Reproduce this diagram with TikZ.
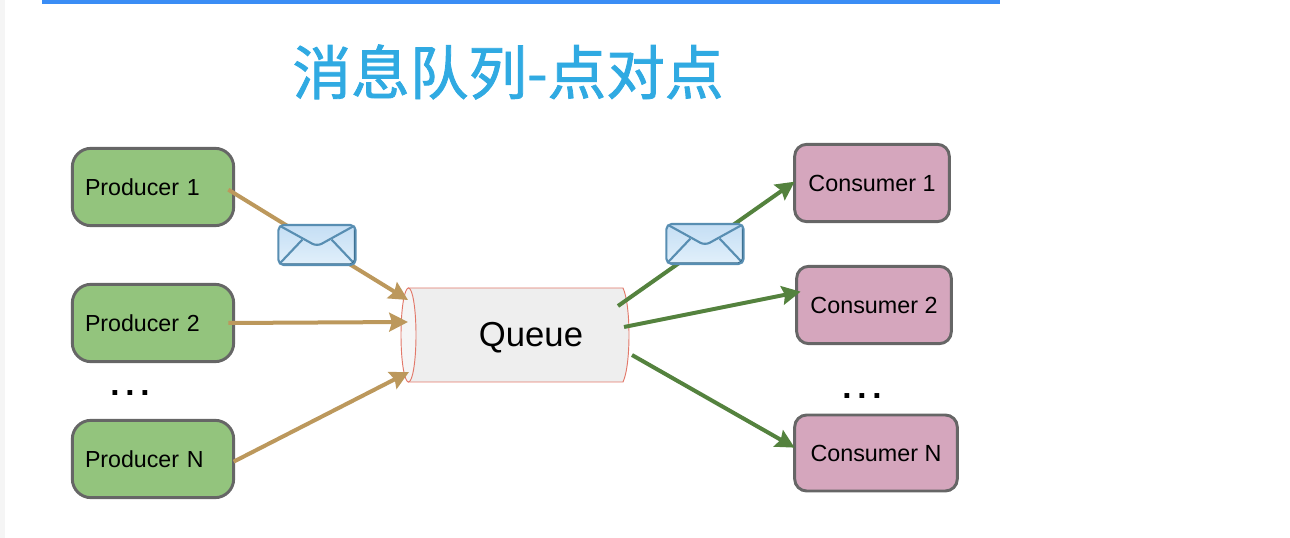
\documentclass[tikz,border=0pt]{standalone}
\usepackage{fontspec}
\setmainfont{Liberation Sans}
\newfontfamily\cjk[FakeBold=1.4]{Noto Sans CJK SC}
\usetikzlibrary{arrows.meta,positioning}
\definecolor{barCol}{RGB}{58,141,245}
\definecolor{titleCol}{RGB}{48,170,226}
\definecolor{prodCol}{RGB}{147,196,125}
\definecolor{consCol}{RGB}{213,166,189}
\definecolor{edgeCol}{RGB}{102,102,102}
\definecolor{inCol}{RGB}{188,152,92}
\definecolor{outCol}{RGB}{84,130,62}
\definecolor{queueCol}{RGB}{238,238,238}
\definecolor{queueEdge}{RGB}{226,120,105}
\definecolor{mailEdge}{RGB}{88,142,178}
\definecolor{mailDark}{RGB}{48,98,130}
\definecolor{mailTop}{RGB}{196,222,244}
\definecolor{mailBot}{RGB}{226,240,251}
\tikzset{
  prod/.style={draw=edgeCol,line width=2.2pt,rounded corners=14pt,fill=prodCol,outer sep=0pt,
               minimum width=121pt,minimum height=58pt,text width=102pt,inner sep=0pt,
               align=left,font=\fontsize{17.4}{20}\selectfont},
  cons/.style={draw=edgeCol,line width=2.2pt,rounded corners=9pt,fill=consCol,outer sep=0pt,
               minimum height=58pt,inner sep=0pt,align=center,
               font=\fontsize{17.5}{20}\selectfont},
  inflow/.style={-{Stealth[length=14pt,width=14pt,inset=2pt]},line width=3pt,draw=inCol},
  outflow/.style={-{Stealth[length=14pt,width=14pt,inset=2pt]},line width=3pt,draw=outCol},
  dotlab/.style={font=\bfseries\fontsize{25}{25}\selectfont},
  queuebody/.style={draw=queueEdge,line width=.7pt,fill=queueCol},
  mail/.style={draw=mailEdge,line width=1.6pt,rounded corners=4pt,outer sep=0pt,
               minimum width=58pt,minimum height=30pt,inner sep=0pt,
               top color=mailTop,bottom color=mailBot,
               path picture={
                 \draw[mailEdge,line width=1.6pt]
                   (path picture bounding box.north west) -- ([yshift=-16pt]path picture bounding box.north)
                   -- (path picture bounding box.north east);
                 \draw[mailEdge,line width=1.6pt]
                   (path picture bounding box.south west) -- ([xshift=18pt,yshift=-11pt]path picture bounding box.north west);
                 \draw[mailEdge,line width=1.6pt]
                   (path picture bounding box.south east) -- ([xshift=-18pt,yshift=-11pt]path picture bounding box.north east);
                 \draw[mailDark,line width=2.6pt]
                   (path picture bounding box.south west) -- (path picture bounding box.south east)
                   -- (path picture bounding box.north east);
               }},
}
\newcommand{\threedots}{.\hspace{4.3pt}.\hspace{4.3pt}.}
\begin{document}
\begin{tikzpicture}[x=.75pt,y=-.75pt]
  \useasboundingbox (0,0) rectangle (1290,538);
  \fill[black!4] (0,0) rectangle (5,538);
  \fill[barCol] (42,0) rectangle (1000,4);
  \node[text=titleCol,font=\cjk\fontsize{44}{50}\selectfont] (title) at (508,72) {消息队列-点对点};
  % --- producers (left column) ---
  \node[prod] (prod1) at (153,187) {Producer 1};
  \node[prod,below=44pt of prod1] (prod2) {Producer 2};
  \node[prod,below=44pt of prod2] (prodN) {Producer N};
  \node[dotlab] (pdots) at (130,393) {\threedots};
  % --- queue (middle): body first, then its open end ---
  \draw[queuebody] (408,288) -- (623,288) .. controls (631,305) and (631,365) .. (623,382)
    -- (408,382) -- cycle;
  \draw[queuebody,fill=queueCol!60] (408.5,335) ellipse (7.5 and 47);
  \node[font=\fontsize{26}{30}\selectfont] (queue) at (531,338) {Queue};
  % --- consumers (right column) ---
  \node[cons,minimum width=116pt] (cons1) at (872,183) {Consumer 1};
  \node[cons,minimum width=116pt] (cons2) at (874,305) {Consumer 2};
  \node[cons,minimum width=122pt,minimum height=57pt] (consN) at (876,453) {Consumer N};
  \node[dotlab] (cdots) at (862,396) {\threedots};
  % --- flows ---
  \coordinate (in1) at (408,300);
  \coordinate (in2) at (408,322);
  \coordinate (in3) at (409,372);
  \coordinate (out1) at (618,306);
  \coordinate (out2) at (624,327);
  \coordinate (out3) at (632,355);
  \draw[inflow] ([xshift=-4pt,yshift=-2pt]prod1.east) -- (in1);
  \draw[inflow] ([xshift=-4pt]prod2.east) -- (in2);
  \draw[inflow] ([yshift=-2pt]prodN.east) -- (in3);
  \draw[outflow] (out1) -- ([yshift=1pt]cons1.west);
  \draw[outflow] (out2) -- ([xshift=3pt,yshift=10pt]cons2.west);
  \draw[outflow] (out3) -- ([yshift=4pt]consN.west);
  % --- envelopes sit on top of the flows ---
  \node[mail] (mail1) at (317,245) {};
  \node[mail] (mail2) at (705,244) {};
\end{tikzpicture}
\end{document}
